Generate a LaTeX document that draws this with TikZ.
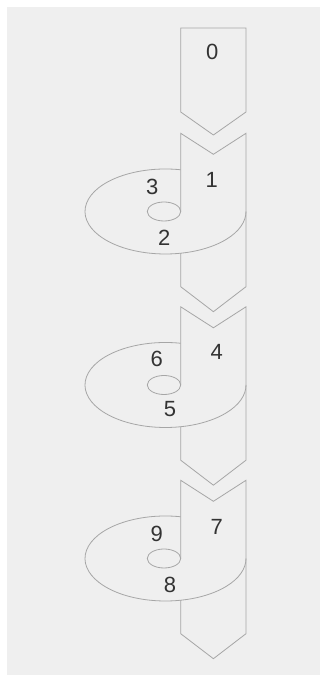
\documentclass[tikz,border=0pt]{standalone}
\usepackage{fontspec}
\setmainfont{Liberation Sans}
\usepackage{tikz}
\definecolor{fond}{HTML}{EFEFEF}
\definecolor{trait}{HTML}{A6A6A6}
\definecolor{chiffre}{HTML}{333333}

\begin{document}
\begin{tikzpicture}[x=1pt,y=1pt,line width=0.8pt,
	num/.style={text=chiffre,inner sep=0pt,font=\fontsize{22}{26}\selectfont}]
		%Fond
		\useasboundingbox (0,0) rectangle (320,675);
		\fill[fond] (7,0) rectangle (320,668);
		%Fleche du haut
		\draw[trait] (180.7,647) -- (246,647) -- (246,563) -- (213.4,540) -- (180.7,563) -- cycle;
		%Premier palier
		\draw[trait] (180.7,463.5) -- (180.7,541.7) -- (213.4,520.7) -- (246,541.7) -- (246,388.3) -- (213.4,363.3) -- (180.7,388.3) -- (180.7,421.8);
		\draw[trait] (165.5,463.5) ++(79.1:80.5 and 42.5) arc (79.1:360:80.5 and 42.5);
		\draw[trait] (164,463.5) ellipse (16.7 and 9.5);
		%Deuxieme palier
		\draw[trait] (180.7,290) -- (180.7,368.2) -- (213.4,347.2) -- (246,368.2) -- (246,214.8) -- (213.4,189.8) -- (180.7,214.8) -- (180.7,248.3);
		\draw[trait] (165.5,290) ++(79.1:80.5 and 42.5) arc (79.1:360:80.5 and 42.5);
		\draw[trait] (164,290) ellipse (16.7 and 9.5);
		%Troisieme palier
		\draw[trait] (180.7,116.5) -- (180.7,194.7) -- (213.4,173.7) -- (246,194.7) -- (246,41.3) -- (213.4,16.3) -- (180.7,41.3) -- (180.7,74.8);
		\draw[trait] (165.5,116.5) ++(79.1:80.5 and 42.5) arc (79.1:360:80.5 and 42.5);
		\draw[trait] (164,116.5) ellipse (16.7 and 9.5);
		%Numeros
		\node[num] (N0) at (212.3,622.7) {0};
		\node[num] (N1) at (211.7,495) {1};
		\node[num] (N2) at (164.3,437.3) {2};
		\node[num] (N3) at (152.3,487.7) {3};
		\node[num] (N4) at (216.7,323.3) {4};
		\node[num] (N5) at (170,265.7) {5};
		\node[num] (N6) at (156.7,316) {6};
		\node[num] (N7) at (216.7,147.7) {7};
		\node[num] (N8) at (170,90) {8};
		\node[num] (N9) at (156.7,140.7) {9};
	\end{tikzpicture}
\end{document}
